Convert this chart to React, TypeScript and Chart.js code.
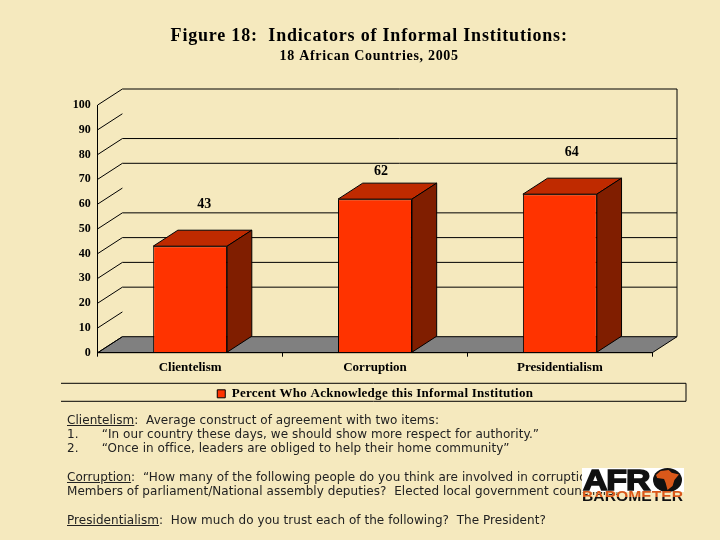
import { useEffect, useRef } from "react";
import { Chart, registerables } from "chart.js";

Chart.register(...registerables);

const categories = ["Clientelism", "Corruption", "Presidentialism"];
const percents = [43, 62, 64];
const seriesLabel = "Percent Who Acknowledge this Informal Institution";
const yTicks = [0, 10, 20, 30, 40, 50, 60, 70, 80, 90, 100];
// back-wall lines that don't show in the picture
const hiddenBackLines = [0, 10, 60, 90];

const BG = "#F5E9BE";
const FONT = "'Liberation Serif', serif";
const DEPTH_X = 24.7;
const DEPTH_Y = 16;
// the value labels sit by hand in the original, not on the bars
const labelShift = [
    { x: 14, y: 42 },
    { x: 6, y: 28 },
    { x: 12, y: 42 },
];

function poly(ctx: CanvasRenderingContext2D, pts: number[][], fill: string) {
    ctx.beginPath();
    pts.forEach((p, i) => (i ? ctx.lineTo(p[0], p[1]) : ctx.moveTo(p[0], p[1])));
    ctx.closePath();
    ctx.fillStyle = fill;
    ctx.fill();
    ctx.strokeStyle = "#000";
    ctx.lineWidth = 1;
    ctx.stroke();
}

function line(ctx: CanvasRenderingContext2D, x1: number, y1: number, x2: number, y2: number) {
    ctx.beginPath();
    ctx.moveTo(x1, y1);
    ctx.lineTo(x2, y2);
    ctx.stroke();
}

// chart.js has no letter spacing option, so set it around the box's own draw
function spaceOut(box: any, ctx: any, spacing: string) {
    if (box.spaced) return;
    box.spaced = true;
    const draw = box.draw;
    box.draw = function (...args: any[]) {
        ctx.letterSpacing = spacing;
        draw.apply(box, args);
        ctx.letterSpacing = "0px";
    };
}

const box3d = {
    id: "box3d",
    afterLayout(chart: any) {
        // title and legend are not centred on the page in the original
        chart.boxes.forEach((b: any) => {
            if (b.options && b.options.text !== undefined) {
                b.left += 43;
                b.right += 43;
                spaceOut(b, chart.ctx, b.options.font.size > 15 ? "0.8px" : "0.7px");
            }
        });
        const lg = chart.legend;
        lg.left += 42.5;
        lg.right += 42.5;
        lg.bottom = lg.top + 18;
        spaceOut(lg, chart.ctx, "0.27px");
    },
    beforeDraw(chart: any) {
        const { ctx, chartArea: a, scales } = chart;
        const y = scales.y;
        ctx.save();
        ctx.strokeStyle = "#000";
        ctx.lineWidth = 1;
        const base = y.getPixelForValue(0);
        poly(
            ctx,
            [
                [a.left, base],
                [a.right, base],
                [a.right + DEPTH_X, base - DEPTH_Y],
                [a.left + DEPTH_X, base - DEPTH_Y],
            ],
            "#808080"
        );
        ctx.strokeStyle = "#000";
        yTicks.forEach((v) => {
            const py = y.getPixelForValue(v);
            line(ctx, a.left, py, a.left + DEPTH_X, py - DEPTH_Y);
            if (!hiddenBackLines.includes(v)) {
                line(ctx, a.left + DEPTH_X, py - DEPTH_Y, a.right + DEPTH_X, py - DEPTH_Y);
            }
        });
        line(ctx, a.right + DEPTH_X, y.getPixelForValue(100) - DEPTH_Y, a.right + DEPTH_X, base - DEPTH_Y);
        // legend frame, open on the left
        const lg = chart.legend;
        line(ctx, 61, lg.top, 686, lg.top);
        line(ctx, 61, lg.bottom, 686, lg.bottom);
        line(ctx, 686, lg.top, 686, lg.bottom);
        ctx.restore();
    },
    afterDatasetsDraw(chart: any) {
        const { ctx } = chart;
        ctx.save();
        chart.getDatasetMeta(0).data.forEach((bar: any, i: number) => {
            const { x, y, base, width } = bar.getProps(["x", "y", "base", "width"], true);
            const l = x - width / 2;
            const r = x + width / 2;
            poly(
                ctx,
                [
                    [l, y],
                    [r, y],
                    [r + DEPTH_X, y - DEPTH_Y],
                    [l + DEPTH_X, y - DEPTH_Y],
                ],
                "#BF2A00"
            );
            poly(
                ctx,
                [
                    [r, y],
                    [r + DEPTH_X, y - DEPTH_Y],
                    [r + DEPTH_X, base - DEPTH_Y],
                    [r, base],
                ],
                "#801E00"
            );
            ctx.fillStyle = "#000";
            ctx.font = `bold 14px ${FONT}`;
            ctx.textAlign = "center";
            ctx.textBaseline = "middle";
            ctx.fillText(String(percents[i]), x + labelShift[i].x, y - labelShift[i].y);
        });
        ctx.restore();
    },
};

function Logo() {
    return (
        <div style={{ position: "absolute", left: 582, top: 468, width: 102, height: 34 }}>
            <div style={{ position: "absolute", left: 0, top: 0, width: 102, height: 24, background: "#fff" }} />
            <div
                style={{
                    position: "absolute",
                    left: 1,
                    top: -3,
                    fontFamily: "'Liberation Sans', sans-serif",
                    fontWeight: 900,
                    fontSize: 29,
                    lineHeight: "30px",
                    letterSpacing: -1,
                    color: "#111",
                    WebkitTextStroke: "1.5px #111",
                    transform: "scaleX(1.17)",
                    transformOrigin: "left top",
                }}
            >
                AFR
            </div>
            <div
                style={{
                    position: "absolute",
                    left: 71,
                    top: 0,
                    width: 29,
                    height: 24,
                    borderRadius: "50%",
                    background: "#111",
                }}
            />
            <div
                style={{
                    position: "absolute",
                    left: 74,
                    top: 2,
                    width: 23,
                    height: 20,
                    background: "#D9581A",
                    clipPath: "polygon(20% 5%, 55% 0, 68% 14%, 100% 22%, 80% 50%, 72% 80%, 50% 100%, 42% 65%, 35% 45%, 5% 40%, 0 25%)",
                }}
            />
            <div
                style={{
                    position: "absolute",
                    left: 0,
                    top: 21,
                    fontFamily: "'Liberation Sans', sans-serif",
                    fontWeight: 900,
                    fontSize: 14,
                    lineHeight: "14px",
                    whiteSpace: "nowrap",
                    background: "linear-gradient(#D9581A 0 55%, #111 55% 100%)",
                    WebkitBackgroundClip: "text",
                    backgroundClip: "text",
                    color: "transparent",
                    transform: "scaleX(1.12)",
                    transformOrigin: "left top",
                }}
            >
                BAROMETER
            </div>
        </div>
    );
}

const noteStyle = {
    position: "absolute" as const,
    left: 67,
    fontFamily: "'DejaVu Sans', sans-serif",
    fontSize: 12,
    letterSpacing: 0.05,
    lineHeight: "14px",
    color: "#222",
    whiteSpace: "pre" as const,
};

function Note({ y, lead, text }: { y: number; lead?: string; text: string }) {
    return (
        <div style={{ ...noteStyle, top: y - 7 }}>
            {lead ? <u>{lead}</u> : null}
            {text}
        </div>
    );
}

export default function App() {
    const canvasRef = useRef<HTMLCanvasElement>(null);
    const chartRef = useRef<Chart | null>(null);

    useEffect(() => {
        if (!canvasRef.current) return;

        chartRef.current = new Chart(canvasRef.current, {
            type: "bar",
            data: {
                labels: categories,
                datasets: [
                    {
                        label: seriesLabel,
                        data: percents,
                        backgroundColor: "#FF3300",
                        borderColor: "#000",
                        borderWidth: 1,
                        categoryPercentage: 0.4,
                        barPercentage: 1,
                    },
                ],
            },
            options: {
                responsive: false,
                animation: false,
                layout: { padding: { left: 0, right: 67.7, top: 0, bottom: 129.7 } },
                plugins: {
                    title: {
                        display: true,
                        text: "Figure 18:  Indicators of Informal Institutions:",
                        color: "#000",
                        font: { family: FONT, size: 18, weight: "bold" },
                        padding: { top: 25.5, bottom: 0 },
                    },
                    subtitle: {
                        display: true,
                        text: "18 African Countries, 2005",
                        color: "#000",
                        font: { family: FONT, size: 14, weight: "bold" },
                        padding: { top: 0.7, bottom: 40.4 },
                    },
                    legend: {
                        display: true,
                        position: "bottom",
                        labels: {
                            color: "#000",
                            font: { family: FONT, size: 13, weight: "bold" },
                            boxWidth: 8,
                            boxHeight: 8,
                            padding: 4,
                        },
                    },
                    tooltip: { enabled: false },
                },
                scales: {
                    x: {
                        afterFit: (axis: any) => {
                            axis.height = 30.6;
                        },
                        border: { color: "#000" },
                        grid: { offset: true, drawOnChartArea: false, color: "#000", tickLength: 4 },
                        ticks: {
                            color: "#000",
                            padding: 3,
                            maxRotation: 0,
                            font: { family: FONT, size: 13, weight: "bold" },
                        },
                    },
                    y: {
                        min: 0,
                        max: 100,
                        afterFit: (axis: any) => {
                            axis.width = 97.7;
                        },
                        afterBuildTicks: (axis: any) => {
                            axis.ticks = yTicks.map((value) => ({ value }));
                        },
                        border: { color: "#000" },
                        grid: { drawOnChartArea: false, drawTicks: false },
                        ticks: {
                            color: "#000",
                            padding: 7,
                            autoSkip: false,
                            font: { family: FONT, size: 12, weight: "bold" },
                        },
                    },
                },
            },
            plugins: [box3d],
        } as any);

        return () => {
            chartRef.current?.destroy();
        };
    }, []);

    return (
        <div style={{ position: "fixed", left: 0, top: 0, width: 720, height: 540, background: BG, overflow: "hidden" }}>
            <canvas
                ref={canvasRef}
                width={720}
                height={540}
                style={{ position: "absolute", left: 0, top: 0 }}
                role="img"
                aria-label="3D bar chart of indicators of informal institutions"
            />
            <Note y={420} lead="Clientelism" text=":  Average construct of agreement with two items:" />
            <Note y={434} text={"1.      \u201CIn our country these days, we should show more respect for authority.\u201D"} />
            <Note y={448} text={"2.      \u201COnce in office, leaders are obliged to help their home community\u201D"} />
            <Note y={477} lead="Corruption" text={":  \u201CHow many of the following people do you think are involved in corruption?"} />
            <Note y={491} text="Members of parliament/National assembly deputies?  Elected local government councilors?" />
            <Note y={520} lead="Presidentialism" text=":  How much do you trust each of the following?  The President?" />
            <Logo />
        </div>
    );
}
